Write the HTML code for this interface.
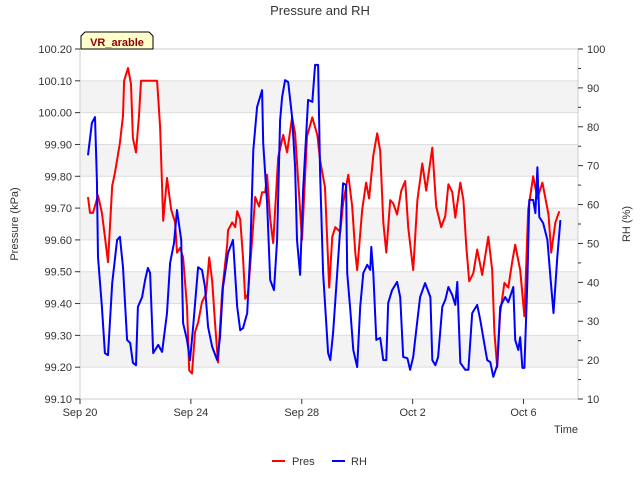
<!DOCTYPE html>
<html><head><meta charset="utf-8"><style>
body{margin:0;background:#fff;font-family:"Liberation Sans",sans-serif;}
svg text{font-family:"Liberation Sans",sans-serif;fill:#333;}
</style></head><body>
<svg id="c" width="640" height="480" xmlns="http://www.w3.org/2000/svg">
<text x="320" y="15" text-anchor="middle" font-size="13">Pressure and RH</text>
<g id="bands"></g>
<g id="grid"></g>
<g id="series"></g>
<rect x="80" y="49" width="498" height="350" fill="none" stroke="#ccc"/>
<g id="axes"></g>
<g>
<path d="M81,49 L81,36 L85,32 L149,32 L153,36 L153,49 Z" fill="#ffffcc" stroke="#000" stroke-width="1"/>
<text x="117" y="46" text-anchor="middle" font-size="11" font-weight="bold" style="fill:#8b0000">VR_arable</text>
</g>
<text transform="translate(18,224) rotate(-90)" text-anchor="middle" font-size="11">Pressure (kPa)</text>
<text transform="translate(630,224) rotate(-90)" text-anchor="middle" font-size="11">RH (%)</text>
<text x="566" y="433" text-anchor="middle" font-size="11">Time</text>
<g>
<g><line x1="272" y1="461" x2="285" y2="461" stroke="#f00" stroke-width="2"/><text x="292" y="465" font-size="11">Pres</text></g>
<g><line x1="332" y1="461" x2="345" y2="461" stroke="#00f" stroke-width="2"/><text x="351" y="465" font-size="11">RH</text></g>
</g>
</svg>
<script>
const presDays=[0.29,0.36,0.47,0.65,0.79,0.90,1.01,1.16,1.26,1.44,1.55,1.59,1.73,1.84,1.91,2.02,2.13,2.20,2.78,2.89,3.00,3.14,3.29,3.43,3.50,3.61,3.72,3.86,3.94,4.04,4.15,4.26,4.40,4.55,4.66,4.77,4.87,4.98,5.13,5.31,5.34,5.49,5.60,5.67,5.78,5.88,5.96,6.06,6.21,6.32,6.46,6.57,6.68,6.75,6.86,6.97,7.15,7.33,7.47,7.65,7.76,8.01,8.19,8.38,8.56,8.66,8.84,8.99,9.10,9.21,9.39,9.49,9.68,9.82,9.93,10.00,10.18,10.32,10.43,10.58,10.72,10.83,10.94,11.05,11.19,11.30,11.44,11.59,11.73,11.84,12.02,12.17,12.35,12.49,12.71,12.85,13.03,13.18,13.29,13.43,13.54,13.72,13.83,13.94,14.04,14.19,14.33,14.51,14.73,14.87,14.95,15.05,15.16,15.31,15.45,15.60,15.70,15.88,16.03,16.17,16.35,16.50,16.68,16.90,17.00,17.15,17.29];
const presVals=[99.735,99.685,99.685,99.74,99.685,99.61,99.53,99.77,99.81,99.905,99.99,100.10,100.14,100.09,99.92,99.875,99.99,100.10,100.10,99.955,99.66,99.795,99.695,99.655,99.56,99.575,99.545,99.39,99.19,99.18,99.31,99.34,99.405,99.43,99.545,99.47,99.34,99.215,99.44,99.585,99.63,99.655,99.64,99.69,99.665,99.545,99.415,99.43,99.60,99.735,99.705,99.75,99.75,99.805,99.665,99.59,99.86,99.93,99.875,99.985,99.935,99.60,99.925,99.985,99.93,99.85,99.765,99.45,99.61,99.64,99.625,99.715,99.805,99.705,99.56,99.505,99.695,99.78,99.73,99.865,99.935,99.88,99.655,99.56,99.725,99.715,99.68,99.755,99.785,99.64,99.505,99.725,99.84,99.755,99.89,99.705,99.64,99.675,99.775,99.75,99.67,99.78,99.725,99.575,99.47,99.495,99.57,99.49,99.61,99.505,99.31,99.20,99.37,99.465,99.45,99.535,99.585,99.505,99.36,99.695,99.80,99.73,99.78,99.68,99.56,99.655,99.69];
const rhDays=[0.29,0.43,0.54,0.61,0.65,0.79,0.90,1.01,1.16,1.34,1.44,1.55,1.70,1.81,1.91,2.02,2.09,2.24,2.35,2.45,2.53,2.64,2.82,2.96,3.14,3.25,3.39,3.50,3.65,3.72,3.86,3.97,4.08,4.26,4.40,4.51,4.62,4.77,4.95,5.05,5.16,5.34,5.52,5.67,5.78,5.88,6.03,6.14,6.25,6.39,6.57,6.61,6.75,6.86,7.00,7.11,7.22,7.29,7.40,7.51,7.65,7.76,7.83,7.94,8.05,8.23,8.38,8.48,8.59,8.66,8.77,8.95,9.03,9.13,9.28,9.39,9.49,9.60,9.64,9.75,9.86,10.00,10.11,10.22,10.36,10.47,10.51,10.58,10.69,10.83,10.94,11.05,11.12,11.26,11.44,11.55,11.66,11.81,11.91,12.02,12.17,12.27,12.45,12.64,12.71,12.82,12.92,13.07,13.18,13.29,13.43,13.54,13.61,13.72,13.90,14.01,14.15,14.33,14.44,14.58,14.69,14.80,14.91,15.05,15.16,15.34,15.45,15.63,15.70,15.81,15.88,15.96,16.03,16.14,16.21,16.35,16.43,16.50,16.57,16.71,16.86,16.97,17.08,17.22,17.33];
const rhVals=[72.7,81.0,82.5,66.3,46.5,33.7,21.8,21.3,39.8,50.9,51.7,43.9,25.2,24.4,19.3,18.7,33.7,36.2,40.6,43.7,42.4,21.8,23.9,22.1,32.1,45.0,50.1,58.6,50.9,29.5,25.2,20.0,28.5,43.9,43.2,38.8,28.5,23.4,20.0,25.9,38.8,47.5,50.9,33.7,27.7,28.2,32.1,47.5,74.0,85.1,89.4,75.8,60.4,40.6,38.0,50.9,81.7,87.6,92.0,91.5,82.5,69.6,50.9,41.9,63.7,86.9,86.4,95.9,95.9,68.1,42.4,21.8,20.0,27.0,42.4,54.2,65.5,65.0,42.4,32.9,22.6,18.2,33.7,42.4,44.5,43.2,49.1,42.4,25.2,25.7,20.0,20.0,34.7,38.0,40.1,36.2,20.8,20.5,17.5,20.8,30.3,36.2,39.8,36.2,20.0,18.7,20.8,33.7,35.5,38.8,36.7,34.2,40.1,19.3,17.5,17.5,32.1,34.2,30.3,24.4,20.0,19.5,15.7,18.7,33.7,36.2,34.9,38.8,25.2,22.6,25.9,18.0,18.0,40.6,61.2,61.2,57.8,69.6,56.8,55.2,50.9,41.4,32.1,46.5,56.0];
const leftTicks=[99.10,99.20,99.30,99.40,99.50,99.60,99.70,99.80,99.90,100.00,100.10,100.20];
const rightTicks=[10,20,30,40,50,60,70,80,90,100];
const dateTicks=[0,4,8,12,16];
const dateLabels=["Sep 20","Sep 24","Sep 28","Oct 2","Oct 6"];
const NS="http://www.w3.org/2000/svg";
const X0=80,X1=578,Y0=399,Y1=49;
const xs=d=>X0+d*27.72;
const yl=v=>Y0-(v-99.1)/1.1*(Y0-Y1);
const yr=v=>Y0-(v-10)/90*(Y0-Y1);
function mk(tag,attrs,parent){const e=document.createElementNS(NS,tag);for(const k in attrs)e.setAttribute(k,attrs[k]);parent.appendChild(e);return e;}
const bands=document.getElementById('bands'),grid=document.getElementById('grid'),axes=document.getElementById('axes'),series=document.getElementById('series');
for(let i=1;i<leftTicks.length-1;i+=2){
 const r=mk('rect',{x:X0,y:yl(leftTicks[i+1]),width:X1-X0,height:yl(leftTicks[i])-yl(leftTicks[i+1]),fill:'#f3f3f3'},bands);
 
 
}
leftTicks.forEach(v=>{
 const y=yl(v);
 if(v>99.15){const g=mk('line',{x1:X0,x2:X1,y1:y,y2:y,stroke:'#ddd'},grid);
 
 }
 mk('line',{x1:X0-5,x2:X0,y1:y,y2:y,stroke:'#333'},axes);
 const t=mk('text',{x:X0-8,y:y+4,'text-anchor':'end','font-size':11},axes);
 
 
 t.textContent=v.toFixed(2);
});
rightTicks.forEach((v,i)=>{
 const y=yr(v);
 mk('line',{x1:X1,x2:X1+5,y1:y,y2:y,stroke:'#333'},axes);
 if(i<rightTicks.length-1){const ym=yr(v+5);mk('line',{x1:X1,x2:X1+3,y1:ym,y2:ym,stroke:'#333'},axes);}
 const t=mk('text',{x:X1+9,y:y+4,'font-size':11},axes);
 
 
 t.textContent=v;
});
dateTicks.forEach((d,i)=>{
 const x=xs(d);
 mk('line',{x1:x,x2:x,y1:Y0,y2:Y0+5,stroke:'#333'},axes);
 const t=mk('text',{x:x,y:Y0+17,'text-anchor':'middle','font-size':11},axes);
 
 
 t.textContent=dateLabels[i];
});
const pp=mk('polyline',{points:presDays.map((d,i)=>xs(d).toFixed(1)+','+yl(presVals[i]).toFixed(1)).join(' '),fill:'none',stroke:'#f00','stroke-width':2,'stroke-linejoin':'round'},series);


const pr=mk('polyline',{points:rhDays.map((d,i)=>xs(d).toFixed(1)+','+yr(rhVals[i]).toFixed(1)).join(' '),fill:'none',stroke:'#00f','stroke-width':2,'stroke-linejoin':'round'},series);


</script>
</body></html>
